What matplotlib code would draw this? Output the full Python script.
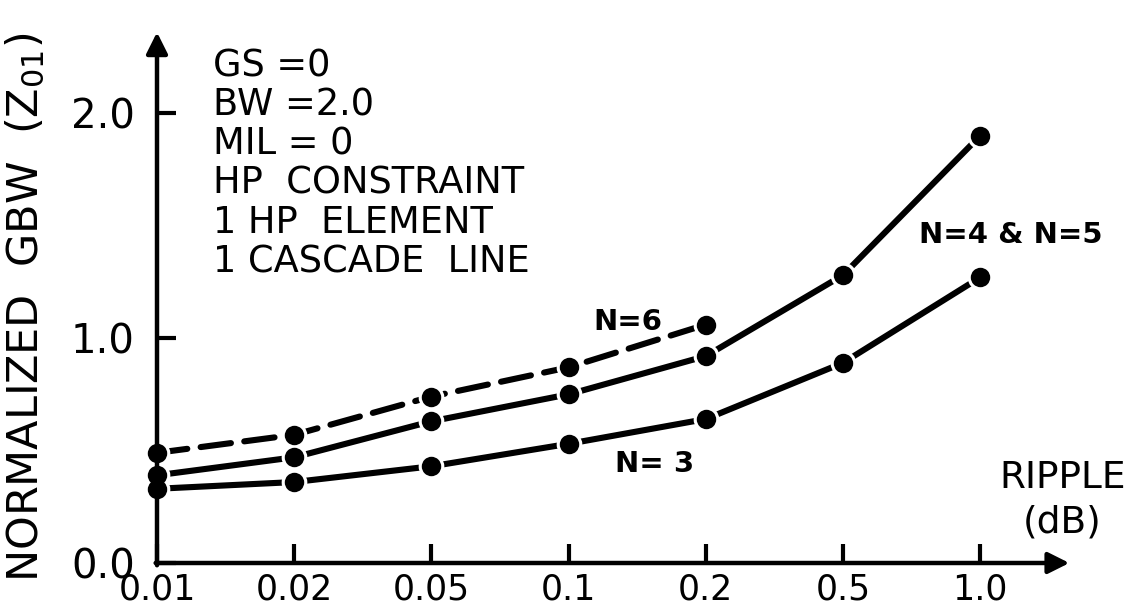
import matplotlib
matplotlib.use('Agg')
from matplotlib import pyplot as plt

plt.rcParams['font.family'] = ['DejaVu Sans']

# Ripple values (dB) on the categorical x axis
ripple = ['0.01', '0.02', '0.05', '0.1', '0.2', '0.5', '1.0']

# Normalized GBW
gbw_n6 = [0.49, 0.57, 0.74, 0.87, 1.06]  # dashed, stops at 0.2 dB
gbw_n45 = [0.39, 0.47, 0.63, 0.75, 0.92, 1.28, 1.90]
gbw_n3 = [0.33, 0.36, 0.43, 0.53, 0.64, 0.89, 1.27]

y_ticks = [0.0, 1.0, 2.0]
y_tick_labels = ['0.0', '1.0', '2.0']

notes = ['GS =0', 'BW =2.0', 'MIL = 0', 'HP  CONSTRAINT', '1 HP  ELEMENT', '1 CASCADE  LINE']

fig = plt.figure(figsize=(11.39, 6.14), dpi=100)
ax = fig.add_axes([157 / 1139, 51 / 614, 960.4 / 1139, 551 / 614])
ax.set_xlim(0, 7.0)
ax.set_ylim(0, 2.45)
for s in ax.spines.values():
    s.set_visible(False)

xs = list(range(len(ripple)))
series = [
    (gbw_n6, (0, (5, 2.2))),
    (gbw_n45, '-'),
    (gbw_n3, '-'),
]
for vals, ls in series:
    ax.plot(xs[:len(vals)], vals, color='black', lw=4.4, linestyle=ls,
            solid_capstyle='round', dash_capstyle='round', clip_on=False, zorder=2)
for vals, ls in series:  # white halo makes the small gaps around the dots
    ax.plot(xs[:len(vals)], vals, 'o', ms=14, mfc='black', mec='white', mew=4.5,
            clip_on=False, zorder=3)
for vals, ls in series:
    ax.plot(xs[:len(vals)], vals, 'o', ms=14, mfc='black', mec='black', mew=0,
            clip_on=False, zorder=4)

# axes drawn as arrows
arrow = dict(arrowstyle='-|>', lw=3.2, color='black', mutation_scale=32, shrinkA=0, shrinkB=0)
ax.annotate('', xy=(6.65, 0), xytext=(-0.01, 0), arrowprops=arrow, annotation_clip=False)
ax.annotate('', xy=(0, 2.36), xytext=(0, -0.01), arrowprops=arrow, annotation_clip=False)

ax.set_xticks(xs)
ax.set_xticklabels(ripple)
ax.set_yticks(y_ticks)
ax.set_yticklabels(y_tick_labels)
ax.tick_params(axis='x', direction='in', length=14, width=3, pad=7, labelsize=25)
ax.tick_params(axis='y', direction='in', length=14, width=3, pad=16, labelsize=29)

fig.text(0.022, 0.5, 'NORMALIZED  GBW  (Z$_\\mathregular{01}$)', rotation=90,
         ha='center', va='center', fontsize=31)

for i, line in enumerate(notes):
    ax.text(0.41, 2.21 - i * 0.174, line, fontsize=26.5, ha='left', va='center')

ax.text(3.43, 1.07, 'N=6', fontsize=21, fontweight='bold', ha='center', va='center')
ax.text(6.22, 1.46, 'N=4 & N=5', fontsize=21, fontweight='bold', ha='center', va='center')
ax.text(3.63, 0.44, 'N= 3', fontsize=21, fontweight='bold', ha='center', va='center')
ax.text(6.6, 0.38, 'RIPPLE', fontsize=27, ha='center', va='center')
ax.text(6.6, 0.18, '(dB)', fontsize=27, ha='center', va='center')

plt.savefig('out.png', dpi=100)
